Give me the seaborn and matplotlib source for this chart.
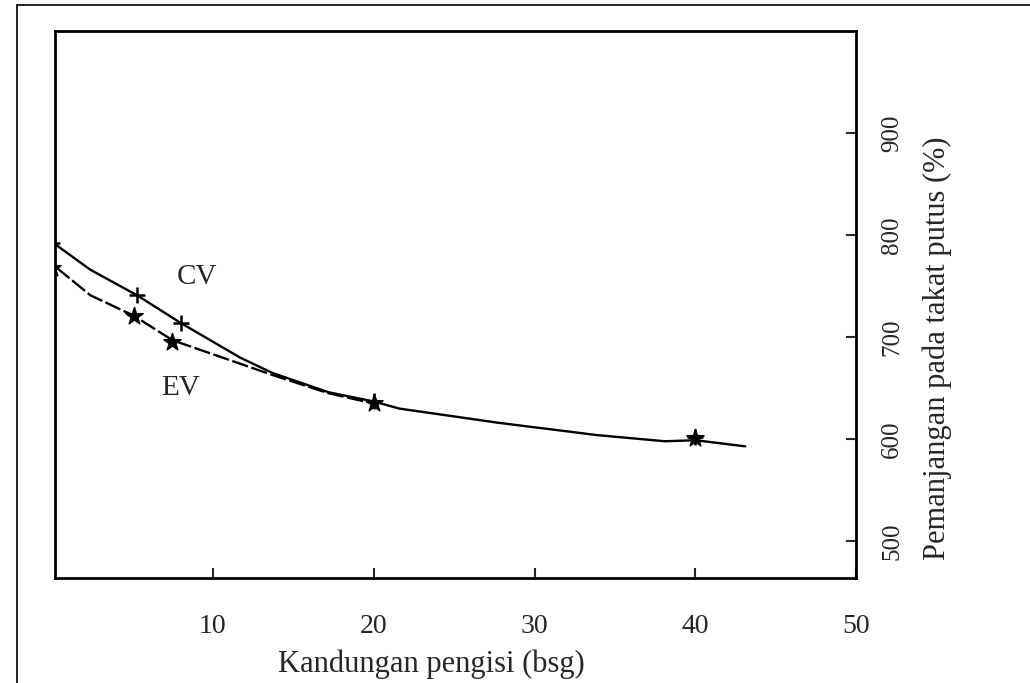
import matplotlib
matplotlib.use("Agg")
import matplotlib.pyplot as plt
from matplotlib.lines import Line2D
import seaborn as sns

# measured points (filler content, elongation at break)
cv_x = [0, 5.3, 8.0, 20, 40]
cv_y = [792, 741, 714, 637, 602]
ev_x = [0, 5.1, 7.5, 20, 40]
ev_y = [768, 721, 695, 635, 601]

# curve
cv_curve_x = [0.3, 2.4, 5.3, 8.0, 11.7, 13.7, 17.2, 20, 21.6, 27.8, 33.9, 38.1, 40, 43.1]
cv_curve_y = [790, 766, 741, 714, 680, 665, 646, 637, 630, 616, 604, 598, 599, 593]
ev_curve_x = [0.3, 2.4, 5.1, 7.5, 11.7, 13.7, 17.2, 20]
ev_curve_y = [768, 741, 721, 697, 674, 663, 645, 635]

x_ticks = [10, 20, 30, 40, 50]
y_ticks = [500, 600, 700, 800, 900]

sns.set_style("ticks")
plt.rcParams['font.family'] = ['Liberation Serif', 'DejaVu Serif']

fig = plt.figure(figsize=(10.3, 6.83), dpi=100)
ax = fig.add_axes([0.0534, 0.1537, 0.778, 0.801])

sns.lineplot(x=cv_curve_x, y=cv_curve_y, ax=ax, color='black', lw=1.7, sort=False)
sns.lineplot(x=ev_curve_x, y=ev_curve_y, ax=ax, color='black', lw=1.7, sort=False,
             linestyle=(0, (7, 1.5)))
sns.scatterplot(x=cv_x, y=cv_y, ax=ax, marker='+', s=140, color='black', linewidth=1.8)
sns.scatterplot(x=ev_x, y=ev_y, ax=ax, marker='*', s=170, color='black', edgecolor='black')

ax.text(9.0, 759, 'CV', fontsize=21, ha='center', va='center')
ax.text(8.0, 650, 'EV', fontsize=21, ha='center', va='center')

ax.set_xlim(0.2, 49.8)
ax.set_ylim(464, 1000)
ax.set_xticks(x_ticks)
ax.set_xticklabels([str(t) for t in x_ticks])
ax.yaxis.tick_right()
ax.set_yticks(y_ticks)
ax.set_yticklabels([str(t) for t in y_ticks], rotation=90, va='center')
ax.tick_params(axis='x', direction='in', length=7, width=1.5, pad=26, labelsize=20)
ax.tick_params(axis='y', direction='in', length=7, width=1.5, pad=18, labelsize=18)

ax.set_xlabel('Kandungan pengisi (bsg)', fontsize=22)
ax.xaxis.set_label_coords(0.47, -0.13)
ax.yaxis.set_label_position('right')
ax.set_ylabel('Pemanjangan pada takat putus (%)', fontsize=22, rotation=90)
ax.yaxis.set_label_coords(1.083, 0.42)

for side in ['left', 'right', 'top', 'bottom']:
    ax.spines[side].set_visible(True)
    ax.spines[side].set_linewidth(2.0)
    ax.spines[side].set_color('black')

# frame of the scanned page
fig.add_artist(Line2D([17 / 1030, 17 / 1030], [0, 1 - 5 / 683], color='black', lw=1.2))
fig.add_artist(Line2D([17 / 1030, 1], [1 - 5 / 683, 1 - 5 / 683], color='black', lw=1.2))

fig.savefig('out.png', dpi=100)
